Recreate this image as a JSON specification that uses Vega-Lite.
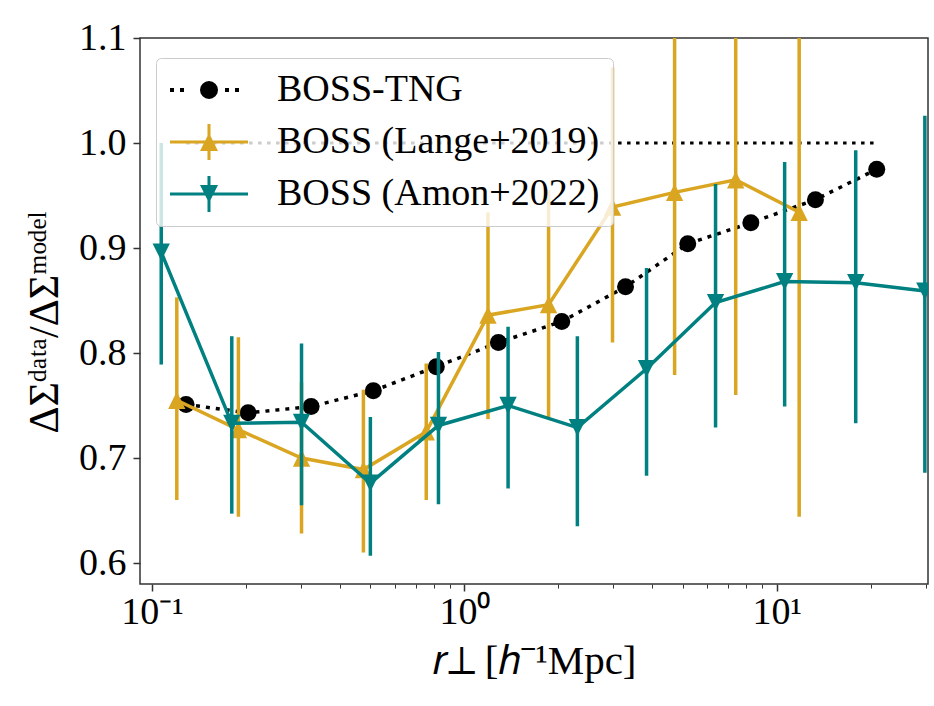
{
  "$schema": "https://vega.github.io/schema/vega-lite/v6.json",
  "width": 788,
  "height": 546,
  "autosize": {"type": "none"},
  "padding": {"left": 140, "top": 38, "right": 6, "bottom": 122},
  "background": "white",
  "config": {
    "view": {"stroke": "#333333", "strokeWidth": 1.5},
    "axis": {"grid": false, "domain": false, "tickColor": "#333333", "tickWidth": 1.5, "labelColor": "black", "titleColor": "black", "labelFont": "Liberation Serif", "titleFont": "Liberation Serif", "titleFontWeight": "normal"},
    "legend": {"labelFont": "Liberation Serif"}
  },
  "datasets": {
    "tng": [
      {"r": 0.1285, "v": 0.751}, {"r": 0.203, "v": 0.743}, {"r": 0.323, "v": 0.749}, {"r": 0.511, "v": 0.764},
      {"r": 0.813, "v": 0.787}, {"r": 1.285, "v": 0.81}, {"r": 2.05, "v": 0.83}, {"r": 3.28, "v": 0.863},
      {"r": 5.19, "v": 0.904}, {"r": 8.26, "v": 0.924}, {"r": 13.3, "v": 0.946}, {"r": 20.9, "v": 0.975}
    ],
    "lange": [
      {"r": 0.12, "v": 0.755, "lo": 0.66, "hi": 0.853},
      {"r": 0.189, "v": 0.727, "lo": 0.644, "hi": 0.815},
      {"r": 0.301, "v": 0.7, "lo": 0.628, "hi": 0.772},
      {"r": 0.475, "v": 0.689, "lo": 0.61, "hi": 0.765},
      {"r": 0.755, "v": 0.725, "lo": 0.66, "hi": 0.79},
      {"r": 1.19, "v": 0.836, "lo": 0.737, "hi": 0.934},
      {"r": 1.86, "v": 0.846, "lo": 0.739, "hi": 0.955},
      {"r": 2.98, "v": 0.939, "lo": 0.81, "hi": 1.072},
      {"r": 4.71, "v": 0.953, "lo": 0.779, "hi": 1.16},
      {"r": 7.39, "v": 0.965, "lo": 0.76, "hi": 1.18},
      {"r": 11.8, "v": 0.934, "lo": 0.644, "hi": 1.22}
    ],
    "amon": [
      {"r": 0.107, "v": 0.896, "lo": 0.789, "hi": 1.0},
      {"r": 0.18, "v": 0.733, "lo": 0.647, "hi": 0.816},
      {"r": 0.301, "v": 0.734, "lo": 0.655, "hi": 0.809},
      {"r": 0.5, "v": 0.676, "lo": 0.607, "hi": 0.739},
      {"r": 0.826, "v": 0.731, "lo": 0.656, "hi": 0.801},
      {"r": 1.38, "v": 0.75, "lo": 0.671, "hi": 0.825},
      {"r": 2.3, "v": 0.729, "lo": 0.635, "hi": 0.816},
      {"r": 3.83, "v": 0.785, "lo": 0.683, "hi": 0.881},
      {"r": 6.37, "v": 0.848, "lo": 0.729, "hi": 0.961},
      {"r": 10.6, "v": 0.868, "lo": 0.749, "hi": 0.982},
      {"r": 17.9, "v": 0.867, "lo": 0.733, "hi": 0.993},
      {"r": 29.8, "v": 0.859, "lo": 0.686, "hi": 1.026}
    ],
    "ref": [{"r": 0.1285, "r2": 20.9, "v": 1.0}],
    "legend": [{"series": "BOSS-TNG"}, {"series": "BOSS (Lange+2019)"}, {"series": "BOSS (Amon+2022)"}]
  },
  "resolve": {"axis": {"x": "independent", "y": "independent"}},
  "layer": [
    {
      "data": {"name": "ref"},
      "mark": {"type": "rule", "color": "black", "strokeWidth": 3, "strokeDash": [3.5, 5.5], "clip": true},
      "encoding": {
        "x": {"field": "r", "type": "quantitative", "scale": {"type": "log", "domain": [0.0915, 30.5], "nice": false},
          "axis": {"orient": "bottom", "values": [0.1, 1, 10], "labelExpr": "datum.value < 0.5 ? '10⁻¹' : datum.value < 5 ? '10⁰' : '10¹'", "tickSize": 7, "labelFontSize": 38, "labelPadding": 2, "labelFlush": false, "title": "𝑟⊥ [ℎ⁻¹Mpc]", "titleFontSize": 41, "titlePadding": 10}},
        "x2": {"field": "r2"},
        "y": {"field": "v", "type": "quantitative", "scale": {"domain": [0.58, 1.1], "nice": false, "zero": false},
          "axis": {"orient": "left", "values": [0.6, 0.7, 0.8, 0.9, 1.0, 1.1], "format": ".1f", "tickSize": 7, "labelFontSize": 38, "labelPadding": 7, "title": "ΔΣᵈᵃᵗᵃ/ΔΣᵐᵒᵈᵉˡ", "titleFontSize": 42, "titlePadding": 12, "titleY": 284}}
      }
    },
    {
      "data": {"name": "tng"},
      "mark": {"type": "line", "color": "black", "strokeWidth": 3.5, "strokeDash": [4, 6], "clip": true},
      "encoding": {
        "x": {"field": "r", "type": "quantitative", "scale": {"type": "log", "domain": [0.0915, 30.5], "nice": false},
          "axis": {"orient": "bottom", "values": [0.2, 0.3, 0.4, 0.5, 0.6, 0.7, 0.8, 0.9, 2, 3, 4, 5, 6, 7, 8, 9, 20, 30], "labels": false, "tickSize": 4, "tickWidth": 1, "title": null}},
        "y": {"field": "v", "type": "quantitative", "scale": {"domain": [0.58, 1.1], "nice": false, "zero": false}, "axis": null}
      }
    },
    {
      "data": {"name": "tng"},
      "mark": {"type": "point", "shape": "circle", "filled": true, "color": "black", "opacity": 1, "size": 289, "clip": true},
      "encoding": {
        "x": {"field": "r", "type": "quantitative", "scale": {"type": "log", "domain": [0.0915, 30.5], "nice": false}, "axis": null},
        "y": {"field": "v", "type": "quantitative", "scale": {"domain": [0.58, 1.1], "nice": false, "zero": false}, "axis": null}
      }
    },
    {
      "data": {"name": "lange"},
      "mark": {"type": "rule", "color": "#DAA520", "strokeWidth": 3.5, "clip": true},
      "encoding": {
        "x": {"field": "r", "type": "quantitative", "scale": {"type": "log", "domain": [0.0915, 30.5], "nice": false}, "axis": null},
        "y": {"field": "lo", "type": "quantitative", "scale": {"domain": [0.58, 1.1], "nice": false, "zero": false}, "axis": null},
        "y2": {"field": "hi"}
      }
    },
    {
      "data": {"name": "lange"},
      "mark": {"type": "line", "color": "#DAA520", "strokeWidth": 3.5, "clip": true},
      "encoding": {
        "x": {"field": "r", "type": "quantitative", "scale": {"type": "log", "domain": [0.0915, 30.5], "nice": false}, "axis": null},
        "y": {"field": "v", "type": "quantitative", "scale": {"domain": [0.58, 1.1], "nice": false, "zero": false}, "axis": null}
      }
    },
    {
      "data": {"name": "lange"},
      "mark": {"type": "point", "shape": "M0,-1L1,1L-1,1Z", "filled": true, "color": "#DAA520", "opacity": 1, "size": 300, "clip": true},
      "encoding": {
        "x": {"field": "r", "type": "quantitative", "scale": {"type": "log", "domain": [0.0915, 30.5], "nice": false}, "axis": null},
        "y": {"field": "v", "type": "quantitative", "scale": {"domain": [0.58, 1.1], "nice": false, "zero": false}, "axis": null}
      }
    },
    {
      "data": {"name": "amon"},
      "mark": {"type": "rule", "color": "#008080", "strokeWidth": 3.5, "clip": true},
      "encoding": {
        "x": {"field": "r", "type": "quantitative", "scale": {"type": "log", "domain": [0.0915, 30.5], "nice": false}, "axis": null},
        "y": {"field": "lo", "type": "quantitative", "scale": {"domain": [0.58, 1.1], "nice": false, "zero": false}, "axis": null},
        "y2": {"field": "hi"}
      }
    },
    {
      "data": {"name": "amon"},
      "mark": {"type": "line", "color": "#008080", "strokeWidth": 3.5, "clip": true},
      "encoding": {
        "x": {"field": "r", "type": "quantitative", "scale": {"type": "log", "domain": [0.0915, 30.5], "nice": false}, "axis": null},
        "y": {"field": "v", "type": "quantitative", "scale": {"domain": [0.58, 1.1], "nice": false, "zero": false}, "axis": null}
      }
    },
    {
      "data": {"name": "amon"},
      "mark": {"type": "point", "shape": "M0,1L-1,-1L1,-1Z", "filled": true, "color": "#008080", "opacity": 1, "size": 300, "clip": true},
      "encoding": {
        "x": {"field": "r", "type": "quantitative", "scale": {"type": "log", "domain": [0.0915, 30.5], "nice": false}, "axis": null},
        "y": {"field": "v", "type": "quantitative", "scale": {"domain": [0.58, 1.1], "nice": false, "zero": false}, "axis": null}
      }
    },
    {
      "data": {"name": "legend"},
      "transform": [{"filter": "false"}],
      "mark": {"type": "point", "filled": true, "opacity": 1, "size": 1296},
      "encoding": {
        "color": {"field": "series", "type": "nominal",
          "scale": {"domain": ["BOSS-TNG", "BOSS (Lange+2019)", "BOSS (Amon+2022)"], "range": ["black", "#DAA520", "#008080"]},
          "legend": {"orient": "none", "legendX": 16, "legendY": 20, "title": null, "symbolSize": 1296, "symbolOpacity": 1, "symbolStrokeWidth": 0, "labelFontSize": 38, "labelOffset": 70, "labelLimit": 0, "padding": 13, "rowPadding": 14, "fillColor": "rgba(255,255,255,0.8)", "strokeColor": "#cccccc", "cornerRadius": 5}},
        "shape": {"field": "series", "type": "nominal",
          "scale": {"domain": ["BOSS-TNG", "BOSS (Lange+2019)", "BOSS (Amon+2022)"],
            "range": [
              "M-1,-0.111H-0.778V0.111H-1ZM-0.444,-0.111H-0.222V0.111H-0.444ZM2.056,-0.111H2.278V0.111H2.056ZM2.611,-0.111H2.833V0.111H2.611ZM1.667,0L1.629,0.191L1.521,0.354L1.358,0.462L1.167,0.5L0.976,0.462L0.813,0.354L0.705,0.191L0.667,0L0.705,-0.191L0.813,-0.354L0.976,-0.462L1.167,-0.5L1.358,-0.462L1.521,-0.354L1.629,-0.191Z",
              "M-1,-0.083H3.333V0.083H-1ZM1.083,-1H1.25V1H1.083ZM0.667,0.5L1.167,-0.5L1.667,0.5Z",
              "M-1,-0.083H3.333V0.083H-1ZM1.083,-1H1.25V1H1.083ZM0.667,-0.5L1.667,-0.5L1.167,0.5Z"
            ]},
          "legend": {"orient": "none", "legendX": 16, "legendY": 20, "title": null, "symbolSize": 1296, "symbolOpacity": 1, "symbolStrokeWidth": 0, "labelFontSize": 38, "labelOffset": 70, "labelLimit": 0, "padding": 13, "rowPadding": 14, "fillColor": "rgba(255,255,255,0.8)", "strokeColor": "#cccccc", "cornerRadius": 5}}
      }
    }
  ]
}
